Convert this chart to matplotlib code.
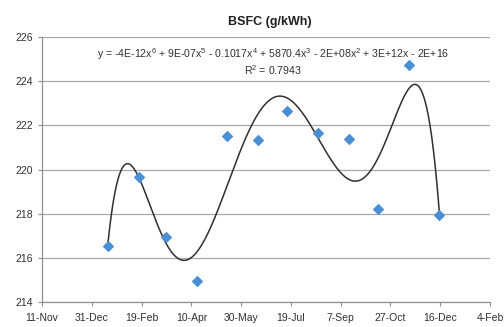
import numpy as np
import matplotlib
matplotlib.use("Agg")
import matplotlib.pyplot as plt

# Data (days since 11-Nov-2012, BSFC values)
day_offsets = [66, 97, 125, 156, 186, 217, 246, 277, 308, 337, 369, 399]
bsfc = [216.55, 219.67, 216.93, 214.93, 221.51, 221.32, 222.63, 221.66, 221.40, 218.22, 224.72, 217.92]
tick_labels = ["11-Nov", "31-Dec", "19-Feb", "10-Apr", "30-May", "19-Jul",
               "7-Sep", "27-Oct", "16-Dec", "4-Feb"]
equation = "y = -4E-12x$^6$ + 9E-07x$^5$ - 0.1017x$^4$ + 5870.4x$^3$ - 2E+08x$^2$ + 3E+12x - 2E+16"
r2_text = "R$^2$ = 0.7943"

plt.rcParams['font.family'] = ['Liberation Sans', 'DejaVu Sans']
plt.rcParams['mathtext.fontset'] = 'custom'
plt.rcParams['mathtext.rm'] = 'Liberation Sans'

fig = plt.figure(figsize=(5.04, 3.27), dpi=100)
ax = fig.add_axes([42/504, 25/327, 448/504, 265/327])

x = np.array(day_offsets, dtype=float)
y = np.array(bsfc)
xs = (x - x.mean()) / x.std()
coef = np.polyfit(xs, y, 6)
xf = np.linspace(x.min(), x.max(), 400)
yf = np.polyval(coef, (xf - x.mean()) / x.std())

ax.plot(xf, yf, color='#303030', lw=1.1, zorder=2)
ax.scatter(x, y, marker='D', s=24, color='#4A8FD4', edgecolors='#4A8FD4', zorder=3)

ax.set_xlim(0, 450)
ax.set_ylim(214, 226)
ax.set_xticks(np.arange(0, 451, 50))
ax.set_xticklabels(tick_labels)
ax.set_yticks(np.arange(214, 227, 2))
ax.tick_params(axis='both', labelsize=7.5, length=3)
ax.tick_params(axis='x', pad=5)
ax.grid(axis='y', color='#a8a8a8', lw=0.9)
ax.set_axisbelow(True)
for s in ['top', 'right']:
    ax.spines[s].set_visible(False)
for s in ['left', 'bottom']:
    ax.spines[s].set_color('#909090')
    ax.spines[s].set_linewidth(0.9)
ax.tick_params(colors='#909090', labelcolor='#303030')

fig.text(270/504, 1 - 22/327, "BSFC (g/kWh)", ha='center', va='center',
         fontsize=9, fontweight='bold', color='#202020')
fig.text(273/504, 1 - 54/327, equation, ha='center', va='center', fontsize=7.6, color='#303030')
fig.text(273/504, 1 - 70/327, r2_text, ha='center', va='center', fontsize=7.6, color='#303030')

fig.savefig("out.png", dpi=100)
